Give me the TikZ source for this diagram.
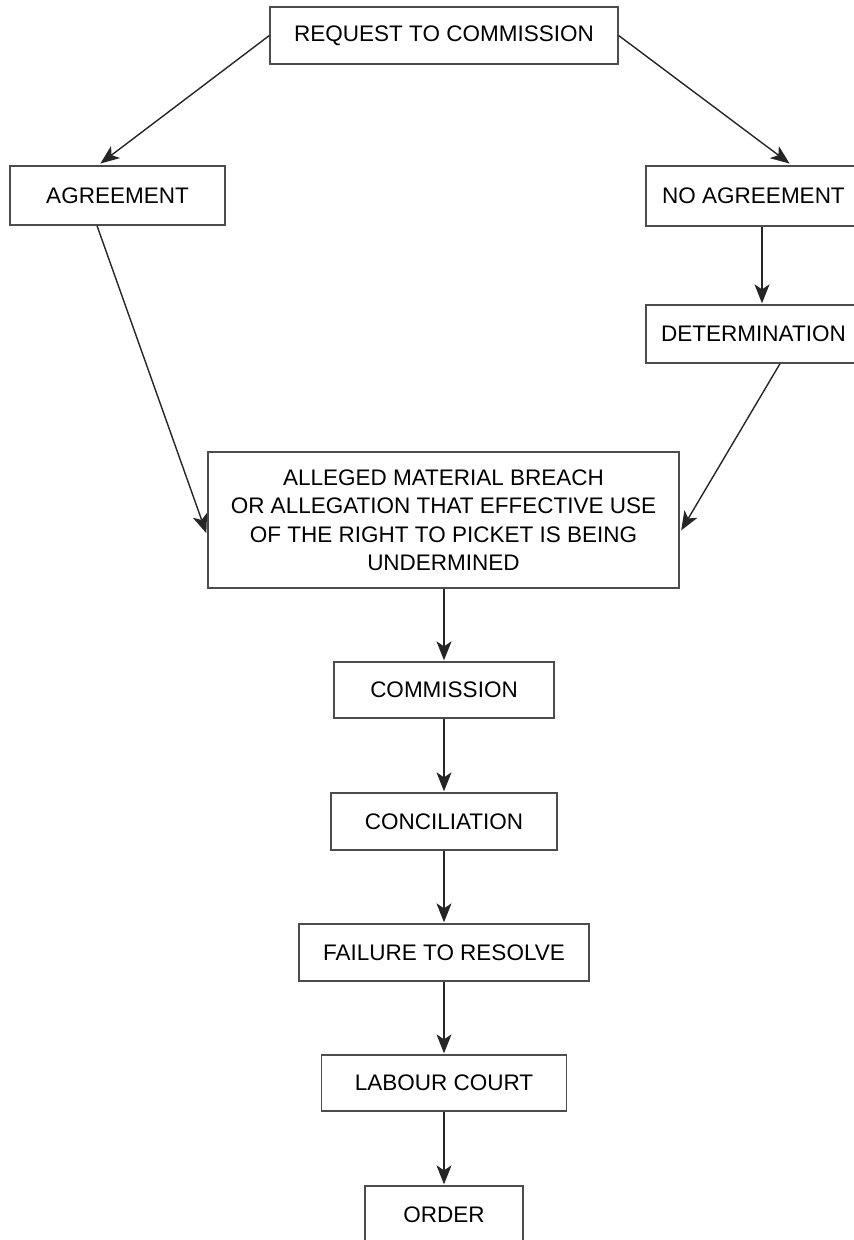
\documentclass[tikz,border=0pt]{standalone}
\usepackage{fontspec}
\setmainfont{Liberation Sans}
\usetikzlibrary{arrows.meta}
\begin{document}
\begin{tikzpicture}[x=1pt,y=-1pt,
  box/.style={draw=black!70, line width=1.3pt, inner sep=0pt, align=center,
    font=\fontsize{22.5}{28.5}\selectfont, text=black},
  arr/.style={draw=black!85, line width=1.4pt,
    -{Stealth[length=19pt,width=15pt,inset=5pt]}, shorten >=3pt},
  varr/.style={arr, shorten >=1pt}]
\useasboundingbox (0,0) rectangle (854,1240);
\clip (0,0) rectangle (854,1240);
\node[box, minimum width=348pt, minimum height=57pt] (req) at (444,35.5) {REQUEST TO COMMISSION};
\node[box, minimum width=215pt, minimum height=59pt] (agr) at (117.5,195.5) {AGREEMENT};
\node[box, minimum width=215pt, minimum height=60pt] (noag) at (753.5,196) {NO AGREEMENT};
\node[box, minimum width=215pt, minimum height=58pt] (det) at (753.5,334) {DETERMINATION};
\node[box, minimum width=471pt, minimum height=136pt] (al) at (443.5,520)
  {ALLEGED MATERIAL BREACH\\OR ALLEGATION THAT EFFECTIVE USE\\OF THE RIGHT TO PICKET IS BEING\\UNDERMINED};
\node[box, minimum width=220pt, minimum height=56pt] (com) at (444,690) {COMMISSION};
\node[box, minimum width=226pt, minimum height=57pt] (con) at (444,821.5) {CONCILIATION};
\node[box, minimum width=290pt, minimum height=57pt] (fail) at (444,952.5) {FAILURE TO RESOLVE};
\node[box, minimum width=245pt, minimum height=56pt] (lab) at (444,1083) {LABOUR COURT};
\node[box, minimum width=158pt, minimum height=57pt] (ord) at (444,1214.5) {ORDER};

\draw[arr] (req.west) -- ([xshift=-19.5pt]agr.north);
\draw[arr] (req.east) -- ([xshift=38.5pt]noag.north);
\draw[varr] ([xshift=8.5pt]noag.south) -- ([xshift=8.5pt]det.north);
\draw[arr] ([xshift=-20.5pt]agr.south) -- ([yshift=-16pt]al.west);
\draw[arr] ([xshift=26.5pt]det.south) -- ([yshift=-13pt]al.east);
\draw[varr] (al.south -| com.north) -- (com.north);
\draw[varr] (com.south) -- (con.north);
\draw[varr] (con.south) -- (fail.north);
\draw[varr] (fail.south) -- (lab.north);
\draw[varr] (lab.south) -- (ord.north);
\end{tikzpicture}
\end{document}
